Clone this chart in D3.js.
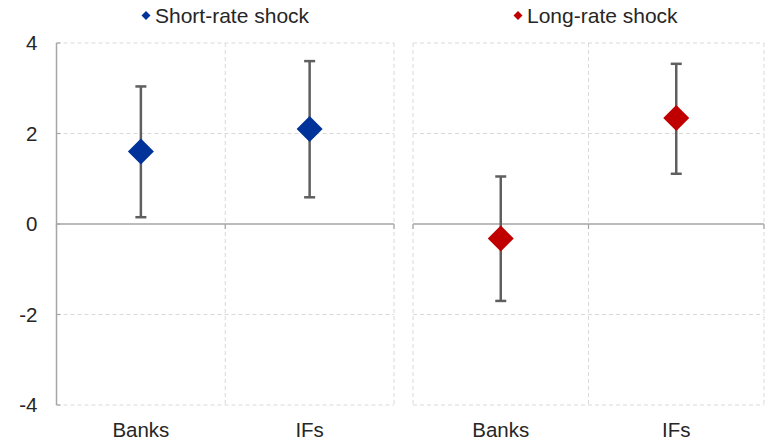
<!DOCTYPE html>
<html><head><meta charset="utf-8">
<script src="https://cdn.jsdelivr.net/npm/d3@7"></script>
<style>body{margin:0;background:#fff}svg{display:block}text{font-family:"Liberation Sans",Arial,sans-serif;fill:#262626}</style>
</head><body><svg id="c" width="769" height="440"></svg>
<script>
const categories = ["Banks", "IFs"];
const seriesNames = ["Short-rate shock", "Long-rate shock"];
const seriesColors = ["#003399", "#C00000"];
const shortEst = [1.60, 2.10];
const shortLo = [0.15, 0.59];
const shortHi = [3.04, 3.60];
const longEst = [-0.32, 2.34];
const longLo = [-1.70, 1.11];
const longHi = [1.05, 3.54];
const yTicks = [-4, -2, 0, 2, 4];

const svg = d3.select("#c");
const y = d3.scaleLinear().domain([-4, 4]).range([405, 43]);
const panels = [
  {name: seriesNames[0], color: seriesColors[0], est: shortEst, lo: shortLo, hi: shortHi, x0: 56.5, x1: 394, legendX: 146},
  {name: seriesNames[1], color: seriesColors[1], est: longEst, lo: longLo, hi: longHi, x0: 413, x1: 764, legendX: 518}
];
const grid = "#D9D9D9";

panels.forEach((p, pi) => {
  const x = d3.scaleBand().domain(categories).range([p.x0, p.x1]).paddingInner(0).paddingOuter(0);
  const g = svg.append("g");
  g.selectAll("line.hg").data(yTicks.filter(d => d !== 0)).enter().append("line")
    .attr("x1", p.x0).attr("x2", p.x1).attr("y1", d => y(d)).attr("y2", d => y(d))
    .attr("stroke", grid).attr("stroke-width", 1).attr("stroke-dasharray", "4,3");
  const edges = categories.map(c => x(c)).concat([p.x1]);
  g.selectAll("line.vg").data(edges.filter((e, i) => !(pi === 0 && i === 0))).enter().append("line")
    .attr("x1", d => d).attr("x2", d => d).attr("y1", y(4)).attr("y2", y(-4))
    .attr("stroke", grid).attr("stroke-width", 1).attr("stroke-dasharray", "4,3");
  g.append("line").attr("x1", p.x0).attr("x2", p.x1).attr("y1", y(0)).attr("y2", y(0))
    .attr("stroke", "#A6A6A6").attr("stroke-width", 1.5);
  g.selectAll("line.tk").data(edges).enter().append("line")
    .attr("x1", d => d).attr("x2", d => d).attr("y1", y(0)).attr("y2", y(0) + 5)
    .attr("stroke", "#A6A6A6").attr("stroke-width", 1.2);
  if (pi === 0) {
    g.append("line").attr("x1", p.x0).attr("x2", p.x0).attr("y1", y(4)).attr("y2", y(-4))
      .attr("stroke", "#A6A6A6").attr("stroke-width", 1.5);
    g.selectAll("line.yt").data(yTicks).enter().append("line")
      .attr("x1", p.x0).attr("x2", p.x0 + 4).attr("y1", d => y(d)).attr("y2", d => y(d))
      .attr("stroke", "#A6A6A6").attr("stroke-width", 1.2);
    g.selectAll("text.yl").data(yTicks).enter().append("text")
      .attr("x", 37.5).attr("y", d => y(d)).attr("dy", "0.36em").attr("text-anchor", "end")
      .attr("font-size", 20.5).text(d => d);
  }
  g.selectAll("text.xl").data(categories).enter().append("text")
    .attr("x", d => x(d) + x.bandwidth() / 2).attr("y", 437).attr("text-anchor", "middle")
    .attr("font-size", 20.5).text(d => d);
  const cap = 5.5;
  categories.forEach((c, i) => {
    const cx = x(c) + x.bandwidth() / 2;
    g.append("line").attr("x1", cx).attr("x2", cx).attr("y1", y(p.hi[i])).attr("y2", y(p.lo[i]))
      .attr("stroke", "#5F5F5F").attr("stroke-width", 2.5);
    [p.hi[i], p.lo[i]].forEach(v => {
      g.append("line").attr("x1", cx - cap).attr("x2", cx + cap).attr("y1", y(v)).attr("y2", y(v))
        .attr("stroke", "#5F5F5F").attr("stroke-width", 2.5);
    });
    const r = 13;
    const cy = y(p.est[i]);
    g.append("path").attr("d", `M${cx},${cy - r}L${cx + r},${cy}L${cx},${cy + r}L${cx - r},${cy}Z`)
      .attr("fill", p.color);
  });
  const lx = p.legendX, ly = 15.5;
  g.append("path").attr("d", `M${lx},${ly - 4.5}L${lx + 4.5},${ly}L${lx},${ly + 4.5}L${lx - 4.5},${ly}Z`).attr("fill", p.color);
  g.append("text").attr("x", lx + 9).attr("y", ly).attr("dy", "0.36em").attr("font-size", 21).text(p.name);
});
</script></body></html>
